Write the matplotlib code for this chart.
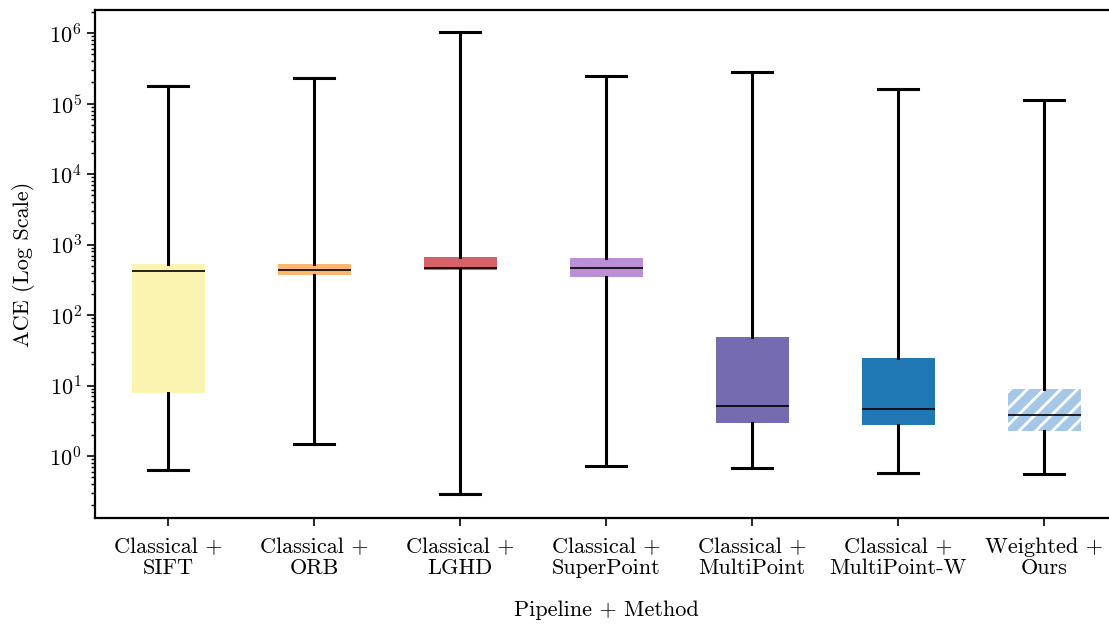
import matplotlib
matplotlib.use("Agg")
import matplotlib.pyplot as plt

plt.rcParams['font.family'] = ['cmr10', 'DejaVu Serif']
plt.rcParams['mathtext.fontset'] = 'cm'
plt.rcParams['axes.formatter.use_mathtext'] = True
plt.rcParams['hatch.color'] = 'white'
plt.rcParams['hatch.linewidth'] = 2.0

categories = ["Classical +\nSIFT", "Classical +\nORB", "Classical +\nLGHD",
              "Classical +\nSuperPoint", "Classical +\nMultiPoint",
              "Classical +\nMultiPoint-W", "Weighted +\nOurs"]
whisker_low = [0.63, 1.48, 0.29, 0.72, 0.68, 0.57, 0.56]
q1 = [7.8, 370, 440, 345, 2.9, 2.75, 2.3]
medians = [420, 435, 465, 470, 5.1, 4.6, 3.8]
q3 = [530, 530, 660, 645, 49, 24.5, 8.9]
whisker_high = [1.8e5, 2.3e5, 1.03e6, 2.5e5, 2.8e5, 1.6e5, 1.12e5]
colors = ["#fbf4b0", "#fdb56f", "#d6616b", "#bb8fd6", "#756bb1", "#1f77b4", "#a6c8e8"]
hatches = [None, None, None, None, None, None, "//"]

fig = plt.figure(figsize=(11.09, 6.27), dpi=100)
ax = fig.add_axes([95/1109, 1 - 518/627, 1022/1109, 508/627])

stats = []
for i in range(len(categories)):
    stats.append(dict(whislo=whisker_low[i], q1=q1[i], med=medians[i],
                      q3=q3[i], whishi=whisker_high[i], fliers=[], label=categories[i]))

bp = ax.bxp(stats, positions=range(1, len(categories) + 1), widths=0.5,
            showfliers=False, patch_artist=True,
            boxprops=dict(linewidth=0),
            whiskerprops=dict(color='black', linewidth=2.2),
            capprops=dict(color='black', linewidth=2.2),
            medianprops=dict(color='black', linewidth=1.2),
            capwidths=0.27)
for patch, c, h in zip(bp['boxes'], colors, hatches):
    patch.set_facecolor(c)
    patch.set_edgecolor(c)
    if h:
        patch.set_hatch(h)
        patch.set_edgecolor('white')
        patch.set_linewidth(0)

ax.set_yscale('log')
ax.set_ylim(10**-0.88, 10**6.33)
ax.set_xlim(0.5, 7.5)
ax.set_xlabel("Pipeline + Method", fontsize=16, labelpad=16)
ax.set_ylabel("ACE (Log Scale)", fontsize=16, labelpad=10)
ax.tick_params(axis='both', labelsize=16, width=1.2, length=6)
ax.tick_params(axis='x', pad=8)
for lbl in ax.get_xticklabels():
    lbl.set_linespacing(1.1)
ax.tick_params(axis='y', which='minor', width=1, length=3)
for s in ax.spines.values():
    s.set_linewidth(1.6)

fig.savefig("out.png", dpi=100)
